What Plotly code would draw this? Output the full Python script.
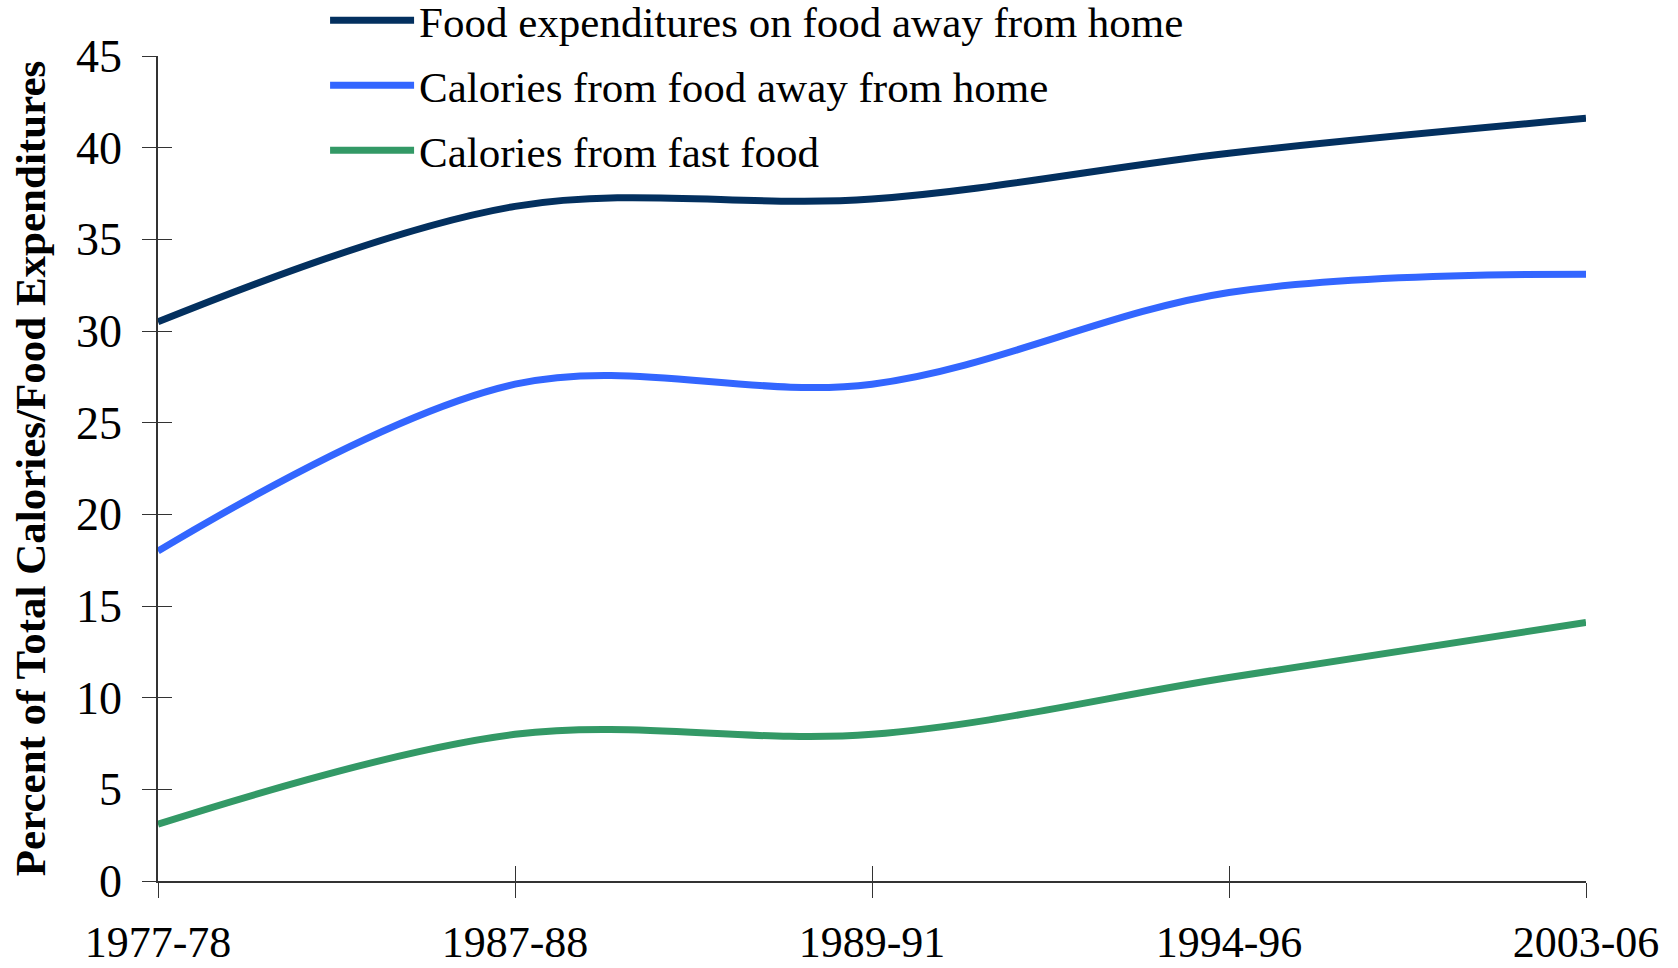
import plotly.graph_objects as go

categories = ["1977-78", "1987-88", "1989-91", "1994-96", "2003-06"]
food_exp_away = [30.5, 36.8, 37.2, 39.7, 41.6]
cal_away = [18.0, 27.1, 27.1, 32.1, 33.1]
cal_fast = [3.1, 8.0, 8.0, 11.1, 14.1]
y_ticks = [0, 5, 10, 15, 20, 25, 30, 35, 40, 45]

series_names = [
    "Food expenditures on food away from home",
    "Calories from food away from home",
    "Calories from fast food",
]
series_values = [food_exp_away, cal_away, cal_fast]
colors = ["#03305f", "#3366ff", "#339966"]

xpos = list(range(len(categories)))
FONT = "Liberation Serif, Times New Roman, serif"

fig = go.Figure()
for i, (name, vals, col) in enumerate(zip(series_names, series_values, colors)):
    fig.add_trace(go.Scatter(
        x=xpos, y=vals, name=name, mode="lines",
        line=dict(color=col, width=7, shape="spline", smoothing=1.0),
        legendgroup=f"g{i}",
    ))

# invisible helper trace so the overlay axes (inner half of the crossing ticks) are drawn
fig.add_trace(go.Scatter(
    x=xpos, y=food_exp_away, xaxis="x2", yaxis="y2", mode="lines",
    line=dict(width=0, color="rgba(0,0,0,0)"), opacity=0,
    showlegend=False, hoverinfo="skip",
))

fig.update_layout(
    width=1678, height=968,
    paper_bgcolor="white", plot_bgcolor="white",
    margin=dict(l=158, r=92, t=56, b=87, autoexpand=False),
    font=dict(family=FONT, color="black", size=44),
    showlegend=True,
    legend=dict(
        x=0.117, y=1.085, xanchor="left", yanchor="top",
        bgcolor="rgba(0,0,0,0)", font=dict(size=43, family=FONT),
        traceorder="grouped", tracegroupgap=6, itemwidth=84,
    ),
    xaxis=dict(
        range=[0, len(categories) - 1], tickvals=xpos, ticktext=categories,
        showgrid=False, zeroline=False, showline=True, linecolor="#333333", linewidth=1.5,
        ticks="outside", ticklen=15, tickcolor="#333333", tickwidth=1.2,
        tickfont=dict(size=44, family=FONT), ticklabelstandoff=6,
    ),
    yaxis=dict(
        range=[0, 45], tickvals=y_ticks,
        showgrid=False, zeroline=False, showline=True, linecolor="#333333", linewidth=1.5,
        ticks="outside", ticklen=14, tickcolor="#333333", tickwidth=1.2,
        tickfont=dict(size=46, family=FONT), ticklabelstandoff=11,
        title=dict(text="Percent of Total Calories/Food Expenditures",
                   font=dict(size=43, family=FONT, weight="bold"), standoff=17),
    ),
    xaxis2=dict(
        overlaying="x", anchor="y", range=[0, len(categories) - 1], tickvals=xpos,
        showticklabels=False, showgrid=False, zeroline=False, showline=False,
        ticks="inside", ticklen=15, tickcolor="#333333", tickwidth=1.2,
    ),
    yaxis2=dict(
        overlaying="y", anchor="x", side="left", range=[0, 45], tickvals=y_ticks,
        showticklabels=False, showgrid=False, zeroline=False, showline=False,
        ticks="inside", ticklen=14, tickcolor="#333333", tickwidth=1.2,
    ),
)

fig.write_html(
    "out.html",
    config={"displayModeBar": False},
    post_script="document.body.style.margin='0px';document.body.style.overflow='hidden';",
)
